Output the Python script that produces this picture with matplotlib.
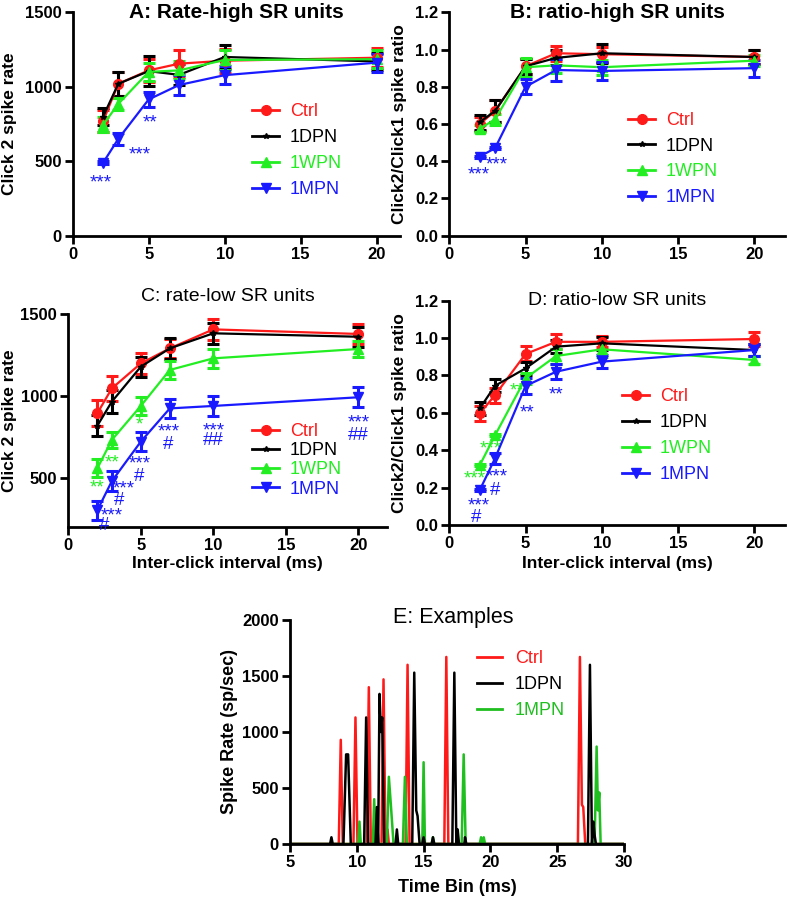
import matplotlib
matplotlib.use("Agg")
import matplotlib.pyplot as plt
from matplotlib.lines import Line2D

plt.rcParams['font.family'] = ['Liberation Sans', 'DejaVu Sans']

# ---- data -----------------------------------------------------------------
ici = [2, 3, 5, 7, 10, 20]
groups = ['Ctrl', '1DPN', '1WPN', '1MPN']

# A: click 2 spike rate, high SR units
rate_high = {
    'Ctrl': [770, 1020, 1110, 1155, 1175, 1195],
    '1DPN': [800, 1020, 1105, 1080, 1200, 1170],
    '1WPN': [745, 885, 1100, 1110, 1180, 1185],
    '1MPN': [490, 650, 915, 1012, 1078, 1162],
}
rate_high_err = {
    'Ctrl': [75, 80, 75, 90, 80, 65],
    '1DPN': [60, 80, 100, 70, 80, 60],
    '1WPN': [50, 40, 60, 60, 70, 60],
    '1MPN': [10, 40, 50, 70, 60, 60],
}

# B: ratio, high SR units
ratio_high = {
    'Ctrl': [0.60, 0.67, 0.91, 0.98, 0.975, 0.96],
    '1DPN': [0.61, 0.67, 0.91, 0.955, 0.98, 0.96],
    '1WPN': [0.575, 0.625, 0.905, 0.915, 0.905, 0.94],
    '1MPN': [0.425, 0.47, 0.80, 0.89, 0.885, 0.90],
}
ratio_high_err = {
    'Ctrl': [0.04, 0.06, 0.04, 0.04, 0.04, 0.04],
    '1DPN': [0.04, 0.06, 0.04, 0.04, 0.05, 0.04],
    '1WPN': [0.02, 0.03, 0.05, 0.04, 0.04, 0.03],
    '1MPN': [0.005, 0.005, 0.04, 0.06, 0.05, 0.045],
}

# C: click 2 spike rate, low SR units
rate_low = {
    'Ctrl': [893, 1045, 1198, 1290, 1406, 1378],
    '1DPN': [817, 964, 1178, 1290, 1382, 1361],
    '1WPN': [556, 730, 938, 1158, 1229, 1286],
    '1MPN': [300, 478, 720, 923, 938, 991],
}
rate_low_err = {
    'Ctrl': [80, 75, 65, 60, 65, 60],
    '1DPN': [65, 70, 60, 65, 65, 60],
    '1WPN': [55, 50, 55, 55, 60, 50],
    '1MPN': [60, 62, 60, 60, 60, 60],
}

# D: ratio, low SR units
ratio_low = {
    'Ctrl': [0.597, 0.695, 0.915, 0.98, 0.98, 0.995],
    '1DPN': [0.624, 0.745, 0.838, 0.954, 0.972, 0.936],
    '1WPN': [0.32, 0.48, 0.785, 0.904, 0.94, 0.883],
    '1MPN': [0.187, 0.357, 0.744, 0.82, 0.874, 0.936],
}
ratio_low_err = {
    'Ctrl': [0.04, 0.04, 0.04, 0.04, 0.03, 0.04],
    '1DPN': [0.035, 0.035, 0.035, 0.035, 0.035, 0.03],
    '1WPN': [0.005, 0.005, 0.03, 0.04, 0.04, 0.02],
    '1MPN': [0.005, 0.03, 0.045, 0.04, 0.035, 0.03],
}

# significance marks: (x, y, text, group)
sig_a = [(1.85, 385, '***', '1MPN'), (4.4, 571, '***', '1MPN'), (5.1, 788, '**', '1MPN')]
sig_b = [(1.9, 0.35, '***', '1MPN'), (3.1, 0.40, '***', '1MPN')]
sig_c = [(1.95, 460, '**', '1WPN'), (3.0, 612, '**', '1WPN'), (4.9, 848, '*', '1WPN'),
         (3.0, 292, '***', '1MPN'), (2.5, 231, '#', '1MPN'),
         (3.85, 455, '***', '1MPN'), (3.5, 384, '#', '1MPN'),
         (4.9, 608, '***', '1MPN'), (4.9, 531, '#', '1MPN'),
         (6.95, 802, '***', '1MPN'), (6.9, 726, '#', '1MPN'),
         (10.0, 812, '***', '1MPN'), (10.0, 750, '##', '1MPN'),
         (20.0, 857, '***', '1MPN'), (20.0, 785, '##', '1MPN')]
sig_d = [(1.7, 0.27, '***', '1WPN'), (2.7, 0.43, '***', '1WPN'), (4.45, 0.74, '**', '1WPN'),
         (3.1, 0.28, '***', '1MPN'), (3.0, 0.205, '#', '1MPN'),
         (1.9, 0.125, '***', '1MPN'), (1.75, 0.06, '#', '1MPN'),
         (5.1, 0.62, '**', '1MPN'), (7.0, 0.72, '**', '1MPN')]

# E: example PSTHs (time bin in ms, spike rate in sp/sec)
ctrl_t = [5, 8.65, 8.8, 8.95, 9.75, 9.9, 10.05, 10.75, 10.9, 11.05, 11.85, 12.0, 12.12,
          12.2, 12.3, 12.4, 13.65, 13.8, 13.95, 16.55, 16.7, 16.85, 26.55, 26.7, 26.85,
          26.95, 27.1, 30]
ctrl_r = [0, 0, 930, 0, 0, 1130, 0, 0, 1400, 0, 0, 1470, 270,
          0, 130, 0, 0, 1600, 0, 0, 1670, 0, 0, 1670, 350,
          330, 0, 0]
dpn_t = [5, 8.0, 8.1, 8.2, 9.0, 9.2, 9.35, 9.55, 10.55, 10.7, 10.85, 11.4, 11.5, 11.6,
         11.7, 11.8, 11.9, 12.05, 12.9, 13.0, 13.1, 14.15, 14.3, 14.45, 14.55, 14.7,
         14.9, 15.0, 15.1, 15.6, 15.7, 15.8, 17.15, 17.3, 17.45, 17.55, 17.65, 18.05,
         18.1, 18.2, 27.3, 27.45, 27.6, 27.7, 27.8, 27.9, 30]
dpn_r = [0, 0, 60, 0, 0, 800, 800, 0, 0, 1130, 0, 0, 330, 0,
         1340, 1000, 1130, 0, 0, 130, 0, 0, 1530, 300, 250, 0,
         0, 60, 0, 0, 60, 0, 0, 1530, 0, 130, 0, 0,
         60, 0, 0, 1600, 0, 200, 80, 0, 0]
mpn_t = [5, 10.1, 10.2, 10.3, 11.2, 11.3, 11.4, 12.25, 12.4, 12.55, 12.75, 13.45, 13.6,
         13.75, 14.9, 15.0, 15.1, 15.6, 15.7, 15.8, 17.85, 18.0, 18.15, 19.2, 19.3,
         19.4, 19.5, 19.6, 27.8, 27.95, 28.05, 28.15, 28.25, 30]
mpn_r = [0, 0, 200, 0, 0, 400, 0, 0, 600, 350, 0, 0, 600,
         0, 0, 730, 0, 0, 60, 0, 0, 800, 0, 0, 60,
         0, 60, 0, 0, 870, 300, 460, 0, 0]

# ---- style ----------------------------------------------------------------
colors = {'Ctrl': '#ff1a1a', '1DPN': '#000000', '1WPN': '#22ee22', '1MPN': '#1a1aff'}
markers = {'Ctrl': 'o', '1DPN': '*', '1WPN': '^', '1MPN': 'v'}
msize = {'Ctrl': 7, '1DPN': 4, '1WPN': 7, '1MPN': 7}

W, H = 787, 898
fig = plt.figure(figsize=(W / 100, H / 100), dpi=100)


def add_ax(left, right, top, bottom):
    return fig.add_axes([left / W, 1 - bottom / H, (right - left) / W, (bottom - top) / H])


def style_ax(ax, tick_size=12):
    for s in ('top', 'right'):
        ax.spines[s].set_visible(False)
    for s in ('left', 'bottom'):
        ax.spines[s].set_linewidth(2)
    ax.tick_params(width=2, length=6, labelsize=tick_size, pad=2)
    for lab in ax.get_xticklabels() + ax.get_yticklabels():
        lab.set_fontweight('bold')


def series_panel(ax, vals, errs, sig, ylim, yticks, fmt, leg_anchor, leg_space):
    for g in groups:
        ax.errorbar(ici, vals[g], yerr=errs[g], color=colors[g], marker=markers[g],
                    ms=msize[g], lw=1.6, elinewidth=2.2, capsize=4.5, capthick=2.2,
                    label=g, clip_on=False, zorder=3)
    for x, y, t, g in sig:
        ax.annotate(t, (x, y), xytext=(0, -3), textcoords='offset points',
                    ha='center', va='center', color=colors[g], fontsize=13.5)
    ax.set_xlim(0, 22)
    ax.set_xticks([0, 5, 10, 15, 20])
    ax.set_ylim(*ylim)
    ax.set_yticks(yticks)
    ax.set_yticklabels([fmt.format(v) for v in yticks])
    style_ax(ax)
    handles = [Line2D([0], [0], color=colors[g], marker=markers[g], ms=msize[g], lw=2)
               for g in groups]
    leg = ax.legend(handles, groups, loc='upper left',
                    bbox_to_anchor=(leg_anchor[0] / W, 1 - leg_anchor[1] / H),
                    bbox_transform=fig.transFigure, frameon=False, fontsize=13,
                    handlelength=1.5, handletextpad=0.6, labelspacing=leg_space,
                    borderpad=0, borderaxespad=0)
    for txt, g in zip(leg.get_texts(), groups):
        txt.set_color(colors[g])


# A
axA = add_ax(72.7, 399.5, 12.3, 235.7)
series_panel(axA, rate_high, rate_high_err, sig_a, (0, 1500), [0, 500, 1000, 1500], '{:.0f}',
             (252, 103), 0.5)
axA.set_xlim(0, 21.5)
axA.text(0.5, 1.0, 'A: Rate-high SR units', transform=axA.transAxes, ha='center',
         va='center', fontsize=15, fontweight='bold')
axA.set_ylabel('Click 2 spike rate', fontsize=12.5, fontweight='bold')
axA.yaxis.set_label_coords(-0.17, 0.5)

# B
axB = add_ax(449.3, 784.8, 12.3, 235.7)
series_panel(axB, ratio_high, ratio_high_err, sig_b, (0, 1.2),
             [0, 0.2, 0.4, 0.6, 0.8, 1.0, 1.2], '{:.1f}', (628, 112), 0.48)
axB.text(0.5, 1.0, 'B: ratio-high SR units', transform=axB.transAxes, ha='center',
         va='center', fontsize=15, fontweight='bold')
axB.set_ylabel('Click2/Click1 spike ratio', fontsize=12.5, fontweight='bold')
axB.yaxis.set_label_coords(-0.126, 0.5)

# C
axC = add_ax(68.3, 387.3, 314, 526.7)
series_panel(axC, rate_low, rate_low_err, sig_c, (200, 1500), [500, 1000, 1500], '{:.0f}',
             (252, 423), 0.12)
axC.text(0.5, 1.08, 'C: rate-low SR units', transform=axC.transAxes, ha='center',
         va='center', fontsize=14)
axC.set_ylabel('Click 2 spike rate', fontsize=12.5, fontweight='bold')
axC.yaxis.set_label_coords(-0.161, 0.5)
axC.set_xlabel('Inter-click interval (ms)', fontsize=12.5, fontweight='bold')
axC.xaxis.set_label_coords(0.5, -0.14)

# D
axD = add_ax(449.3, 784.8, 300.7, 525)
series_panel(axD, ratio_low, ratio_low_err, sig_d, (0, 1.2),
             [0, 0.2, 0.4, 0.6, 0.8, 1.0, 1.2], '{:.1f}', (622, 388), 0.5)
axD.text(0.5, 1.0, 'D: ratio-low SR units', transform=axD.transAxes, ha='center',
         va='center', fontsize=14)
axD.set_ylabel('Click2/Click1 spike ratio', fontsize=12.5, fontweight='bold')
axD.yaxis.set_label_coords(-0.126, 0.5)
axD.set_xlabel('Inter-click interval (ms)', fontsize=12.5, fontweight='bold')
axD.xaxis.set_label_coords(0.5, -0.14)

# E
axE = add_ax(290, 624, 620, 844)
e_colors = {'Ctrl': '#ff1a1a', '1DPN': '#000000', '1MPN': '#1fbf1f'}
for name, t, r in [('Ctrl', ctrl_t, ctrl_r), ('1MPN', mpn_t, mpn_r), ('1DPN', dpn_t, dpn_r)]:
    axE.plot(t, r, color=e_colors[name], lw=1.8, label=name)
axE.set_xlim(5, 30)
axE.set_ylim(0, 2000)
axE.set_xticks([5, 10, 15, 20, 25, 30])
axE.set_yticks([0, 500, 1000, 1500, 2000])
style_ax(axE, tick_size=12)
axE.text(0.49, 1.01, 'E: Examples', transform=axE.transAxes, ha='center', va='center',
         fontsize=15.5)
axE.set_ylabel('Spike Rate (sp/sec)', fontsize=13, fontweight='bold')
axE.yaxis.set_label_coords(-0.157, 0.5)
axE.set_xlabel('Time Bin (ms)', fontsize=13, fontweight='bold')
axE.xaxis.set_label_coords(0.5, -0.155)
e_names = ['Ctrl', '1DPN', '1MPN']
e_handles = [Line2D([0], [0], color=e_colors[n], lw=2) for n in e_names]
legE = axE.legend(e_handles, e_names, loc='upper left',
                  bbox_to_anchor=(477 / W, 1 - 650 / H), bbox_transform=fig.transFigure,
                  frameon=False, fontsize=13, handlelength=1.4, handletextpad=0.7,
                  labelspacing=0.5, borderpad=0, borderaxespad=0)
for txt, n in zip(legE.get_texts(), e_names):
    txt.set_color(e_colors[n])

fig.savefig('out.png', dpi=100)
